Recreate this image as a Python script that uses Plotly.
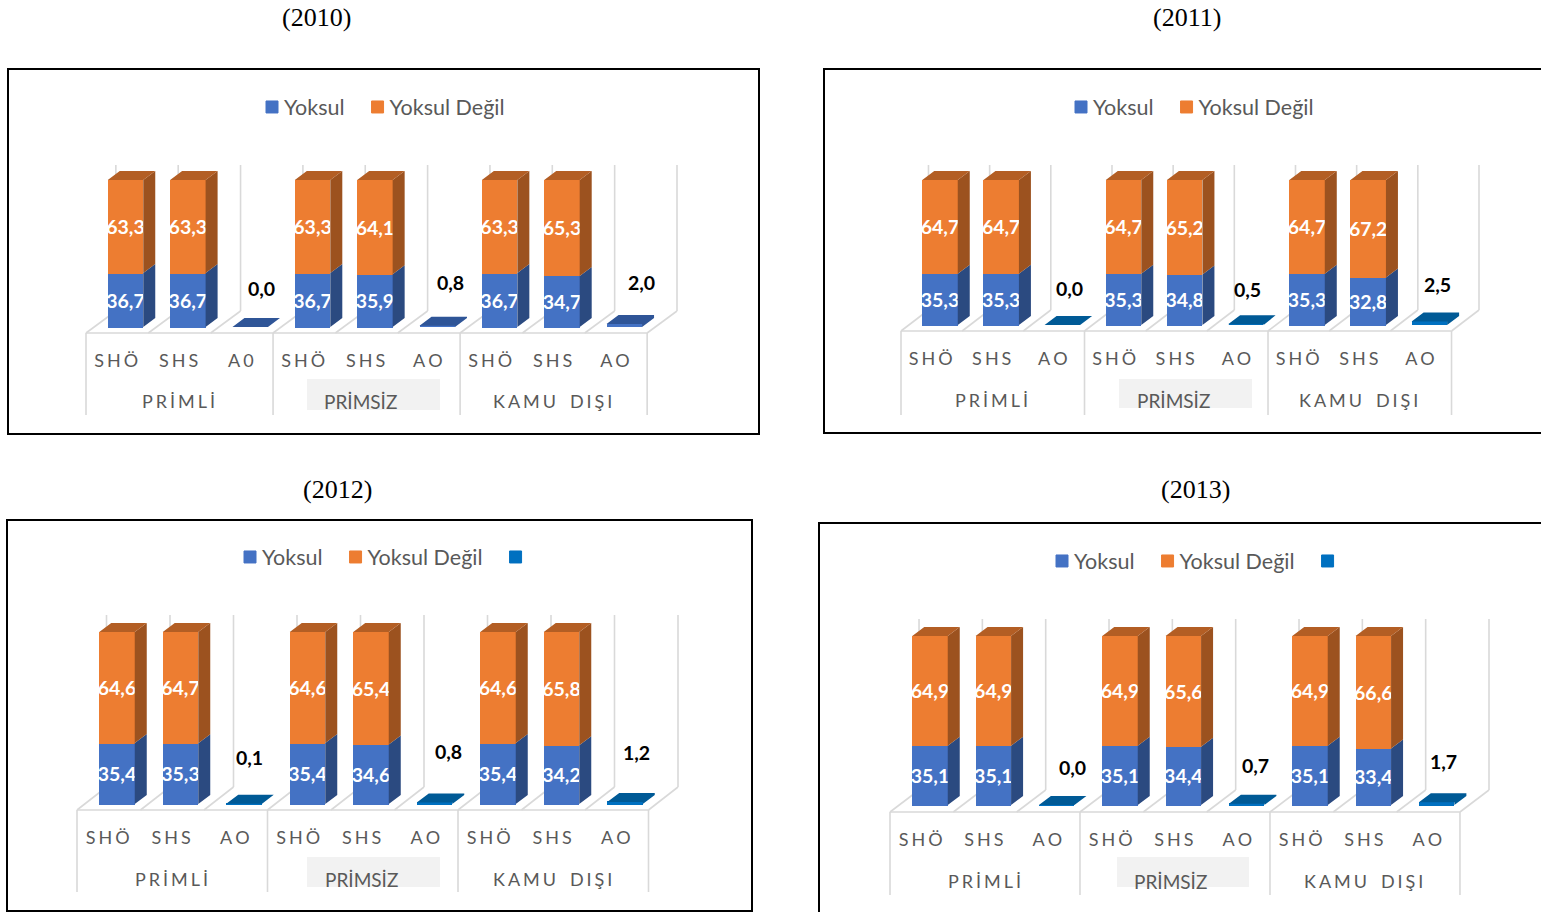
import plotly.graph_objects as go

W, H = 1541, 912
SP = "\u2006"

YEARS = ["(2010)", "(2011)", "(2012)", "(2013)"]
YOKSUL = [
    [36.7, 36.7, None, 36.7, 35.9, None, 36.7, 34.7, None],
    [35.3, 35.3, None, 35.3, 34.8, None, 35.3, 32.8, None],
    [35.4, 35.3, None, 35.4, 34.6, None, 35.4, 34.2, None],
    [35.1, 35.1, None, 35.1, 34.4, None, 35.1, 33.4, None],
]
YOKSUL_DEGIL = [
    [63.3, 63.3, None, 63.3, 64.1, None, 63.3, 65.3, None],
    [64.7, 64.7, None, 64.7, 65.2, None, 64.7, 67.2, None],
    [64.6, 64.7, None, 64.6, 65.4, None, 64.6, 65.8, None],
    [64.9, 64.9, None, 64.9, 65.6, None, 64.9, 66.6, None],
]
AO_VALUES = [
    [None, None, 0.0, None, None, 0.8, None, None, 2.0],
    [None, None, 0.0, None, None, 0.5, None, None, 2.5],
    [None, None, 0.1, None, None, 0.8, None, None, 1.2],
    [None, None, 0.0, None, None, 0.7, None, None, 1.7],
]
CATEGORIES_FIRST = ["SHÖ", "SHS", "A0", "SHÖ", "SHS", "AO", "SHÖ", "SHS", "AO"]
CATEGORIES = ["SHÖ", "SHS", "AO", "SHÖ", "SHS", "AO", "SHÖ", "SHS", "AO"]
GROUPS = ["PRİMLİ", "PRİMSİZ", "KAMU DIŞI"]
SERIES_NAMES = ["Yoksul", "Yoksul Değil", " "]


def spaced(s):
    return SP.join(s).replace(SP + " " + SP, "\u00a0\u00a0\u00a0")


# Layout of each panel, in page pixels (separate from the data above)
PANELS = [
    dict(frame=(8, 69, 759, 434), c0=125.5, pitch=62.35, base=327, top=180, L=86, fy=333, wx=677, wb=311, wt=165, sb=415,
         tx=316, ty=17.5, box=(307, 379, 440, 410), gy=401, gx=-5.6, ly=107, lx=266, legend3=False,
         cats=CATEGORIES_FIRST, nx=(10.8, 13.7, 16.7), ty_ao=(288, 283, 282), plate="#2F5597", front3="#4472C4"),
    dict(frame=(824, 69, 1600, 433), c0=940, pitch=61.17, base=325, top=180, L=901, fy=331, wx=1479, wb=310, wt=165, sb=415,
         tx=1187, ty=17.5, box=(1119, 379, 1252, 408), gy=400, gx=-3, ly=107, lx=1075, legend3=False,
         cats=CATEGORIES, nx=(6.7, 1.2, 8.6), ty_ao=(288, 289, 284), plate="#005A96", front3="#0070C0"),
    dict(frame=(7, 520, 752, 911), c0=117, pitch=63.5, base=804, top=632, L=77, fy=810, wx=678, wb=787, wt=615, sb=892,
         tx=337, ty=489.5, box=(307, 857, 440, 887), gy=879, gx=-1.75, ly=557, lx=244, legend3=True,
         cats=CATEGORIES, nx=(5, 13.5, 11), ty_ao=(757, 752, 752), plate="#005A96", front3="#0070C0"),
    dict(frame=(819, 523, 1600, 960), c0=930, pitch=63.33, base=805, top=636, L=890, fy=812, wx=1489, wb=790, wt=619, sb=895,
         tx=1195, ty=489.5, box=(1117, 857, 1249, 887), gy=881, gx=-4, ly=561, lx=1056, legend3=True,
         cats=CATEGORIES, nx=(16, 8.5, 7), ty_ao=(767, 765, 761), plate="#005A96", front3="#0070C0"),
]

BLUE, ORANGE = "#4472C4", "#ED7D31"
BLUE_SIDE, ORANGE_SIDE, ORANGE_TOP = "#2B4A80", "#9C521F", "#B35E24"
LINE = "#D9D9D9"
GREY_TEXT = "#595959"
FONT = "Lato"
BAR_W, DX, DY = 35.5, 12, 9

fig = go.Figure()
shapes, annotations = [], []
px = lambda x: x / W
py = lambda y: 1 - y / H


def line(x0, y0, x1, y1, color=LINE, width=1.6):
    shapes.append(dict(type="line", xref="paper", yref="paper", x0=px(x0), y0=py(y0), x1=px(x1), y1=py(y1),
                       line=dict(color=color, width=width), layer="below"))


def add_face(kx, ky, polys, color):
    xs, ys = [], []
    for poly in polys:
        for a, b in poly:
            xs.append(a)
            ys.append(b)
        xs.append(None)
        ys.append(None)
    fig.add_trace(go.Scatter(x=xs, y=ys, mode="lines", fill="toself", fillcolor=color, line=dict(width=0),
                             xaxis=kx, yaxis=ky, showlegend=False, hoverinfo="skip"))


for n, P in enumerate(PANELS):
    suffix = "" if n == 0 else str(n + 1)
    kx, ky = "x" + suffix, "y" + suffix
    pitch = P["pitch"]
    scale = (P["base"] - P["top"]) / 100.0
    left, right = P["L"], P["wx"]
    x_range = [(left - P["c0"]) / pitch, (right - P["c0"]) / pitch]
    y_range = [(P["base"] - P["sb"]) / scale, (P["base"] - P["wt"]) / scale]
    xs = list(range(9))
    hw = BAR_W / 2 / pitch
    ddx, ddy = DX / pitch, DY / scale
    draw_w = (BAR_W - 1) / pitch

    fmt = lambda arr: [None if v is None else f"{v:.1f}".replace(".", ",") for v in arr]
    names = SERIES_NAMES
    leg = "legend" + suffix
    fig.add_trace(go.Bar(x=xs, y=YOKSUL[n], name=names[0], width=draw_w, marker=dict(color=BLUE, line=dict(color=BLUE, width=1)),
                         text=fmt(YOKSUL[n]), textposition="inside", insidetextanchor="middle", textangle=0,
                         constraintext="none", cliponaxis=False, textfont=dict(color="white", family=FONT, size=19.5, weight="bold"),
                         xaxis=kx, yaxis=ky, legend=leg))
    fig.add_trace(go.Bar(x=xs, y=YOKSUL_DEGIL[n], name=names[1], width=draw_w, marker=dict(color=ORANGE, line=dict(color=ORANGE, width=1)),
                         text=fmt(YOKSUL_DEGIL[n]), textposition="inside", insidetextanchor="middle", textangle=0,
                         constraintext="none", cliponaxis=False, textfont=dict(color="white", family=FONT, size=19.5, weight="bold"),
                         xaxis=kx, yaxis=ky, legend=leg))
    fig.add_trace(go.Bar(x=xs, y=AO_VALUES[n], name=names[2], width=draw_w,
                         marker=dict(color=P["front3"], line=dict(color=P["front3"], width=1 if P["legend3"] else 0)),
                         showlegend=P["legend3"], xaxis=kx, yaxis=ky, legend=leg))

    # depth faces, derived from the same values
    side_b, side_o, top_o, plates = [], [], [], []
    for i in xs:
        r = i + hw
        l = i - hw
        a = YOKSUL[n][i]
        b = YOKSUL_DEGIL[n][i]
        if a is not None:
            t = a + b
            side_b.append([(r, 0), (r + ddx, ddy), (r + ddx, a + ddy), (r, a)])
            side_o.append([(r, a), (r + ddx, a + ddy), (r + ddx, t + ddy), (r, t)])
            top_o.append([(l, t), (l + ddx, t + ddy), (r + ddx, t + ddy), (r, t)])
        v = AO_VALUES[n][i]
        if v is not None:
            plates.append([(r, 0), (r + ddx, ddy), (r + ddx, v + ddy), (r, v)])
            plates.append([(l, v), (l + ddx, v + ddy), (r + ddx, v + ddy), (r, v)])
    add_face(kx, ky, side_b, BLUE_SIDE)
    add_face(kx, ky, side_o, ORANGE_SIDE)
    add_face(kx, ky, top_o, ORANGE_TOP)
    add_face(kx, ky, plates, P["plate"])

    tick_pos = [(left - 1 + pitch * (i + 0.5) - P["c0"]) / pitch for i in xs]
    fig.update_layout(**{
        "xaxis" + suffix: dict(domain=[px(left), px(right)], range=x_range, anchor="free", position=py(P["fy"]),
                               tickmode="array", tickvals=tick_pos, ticktext=[spaced(c) for c in P["cats"]],
                               showgrid=False, zeroline=False,
                               showline=False, ticks="outside", ticklen=11, tickwidth=0, tickcolor="rgba(0,0,0,0)",
                               tickfont=dict(family=FONT, size=18, color=GREY_TEXT), tickangle=0, automargin=False),
        "yaxis" + suffix: dict(domain=[py(P["sb"]), py(P["wt"])], range=y_range, visible=False, anchor=kx, fixedrange=True),
        leg: dict(orientation="h", x=px(P["lx"] - 14), y=py(P["ly"]), xanchor="left", yanchor="middle",
                  traceorder="normal", bgcolor="rgba(0,0,0,0)", font=dict(family=FONT, size=21.5, color=GREY_TEXT),
                  itemclick=False, itemdoubleclick=False),
    })

    # frame (page shapes) and chart walls
    fx0, fy0, fx1, fy1 = P["frame"]
    shapes.append(dict(type="rect", xref="paper", yref="paper", x0=px(fx0), y0=py(fy0), x1=px(fx1), y1=py(fy1),
                       line=dict(color="black", width=2), fillcolor="rgba(0,0,0,0)", layer="below"))
    bx0, by0, bx1, by1 = P["box"]
    shapes.append(dict(type="rect", xref="paper", yref="paper", x0=px(bx0), y0=py(by0), x1=px(bx1), y1=py(by1),
                       line=dict(width=0), fillcolor="#F2F2F2", layer="below"))
    depth = right - (left + 9 * pitch)
    line(left, P["fy"], left + 9 * pitch, P["fy"])
    for k in range(10):
        fx = left + k * pitch
        line(fx, P["fy"], fx + depth, P["wb"])
        line(fx + depth, P["wb"], fx + depth, P["wt"])
        if k % 3 == 0:
            line(fx, P["fy"], fx, P["sb"])

    # group labels
    for g, name in enumerate(GROUPS):
        gx = (left + pitch * (3 * g + 1.5) - P["c0"]) / pitch
        plain = g == 1
        annotations.append(dict(x=gx, y=py(P["gy"]), xref=kx, yref="paper", text=name if plain else spaced(name), showarrow=False,
                                xanchor="center", yanchor="middle", xshift=P["gx"] if plain else -1,
                                font=dict(family=FONT, size=19 if plain else 18, color=GREY_TEXT)))
    # AO value labels
    for g, i in enumerate((2, 5, 8)):
        v = AO_VALUES[n][i]
        annotations.append(dict(x=i, y=v, xref=kx, yref=ky, text=f"{v:.1f}".replace(".", ","), showarrow=False,
                                xanchor="center", yanchor="middle", xshift=P["nx"][g],
                                yshift=(P["base"] - v * scale) - P["ty_ao"][g],
                                font=dict(family=FONT, size=19.5, color="black", weight="bold")))
    # panel title
    annotations.append(dict(x=px(P["tx"]), y=py(P["ty"]), xref="paper", yref="paper", text=YEARS[n], showarrow=False,
                            xanchor="center", yanchor="middle",
                            font=dict(family="Liberation Serif", size=26, color="black")))

fig.update_layout(width=W, height=H, autosize=False, margin=dict(l=0, r=0, t=0, b=0, pad=0),
                  paper_bgcolor="white", plot_bgcolor="rgba(0,0,0,0)", barmode="stack",
                  shapes=shapes, annotations=annotations, hovermode=False)

POST = """
document.body.style.margin='0';
function tightenLegend(){
  document.querySelectorAll('text.legendtext, text.legend2text, text.legend3text, text.legend4text').forEach(function(t){
    t.setAttribute('x', 32);
    t.querySelectorAll('tspan').forEach(function(s){ if(s.hasAttribute('x')) s.setAttribute('x', 32); });
  });
}
tightenLegend();
var gd = document.getElementById('{plot_id}');
if (gd && gd.on) gd.on('plotly_afterplot', tightenLegend);
[0, 50, 200, 500, 1000].forEach(function(ms){ setTimeout(tightenLegend, ms); });
"""
fig.write_html("out.html", post_script=POST, config=dict(displayModeBar=False))
